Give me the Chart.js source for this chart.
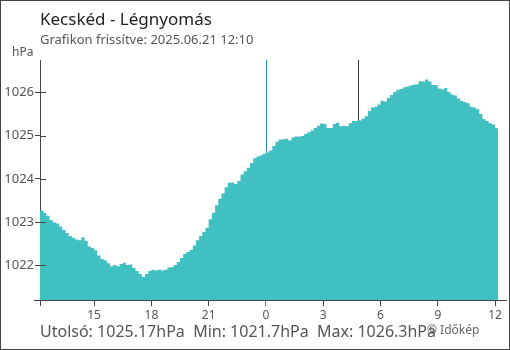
<!DOCTYPE html>
<html>
<head>
<meta charset="utf-8">
<script src="https://cdn.jsdelivr.net/npm/chart.js@4.4.1/dist/chart.umd.min.js"></script>
<style>
  body { margin: 0; background: #fff; font-family: "Noto Sans", sans-serif; }
  #wrap { position: relative; width: 510px; height: 350px; }
  #chart { position: absolute; left: 0; top: 0; }
  #frame { position: absolute; left: 0; top: 0; width: 510px; height: 350px; box-sizing: border-box;
           border: 1px solid #444; pointer-events: none; }
  .txt { position: absolute; white-space: pre; line-height: 1; }
</style>
</head>
<body>
<div id="wrap">
  <canvas id="chart" width="510" height="350"></canvas>
  <div class="txt" id="title" style="left:40px; top:10px; font-size:17px; color:#222;">Kecskéd - Légnyomás</div>
  <div class="txt" id="subtitle" style="left:40px; top:33px; font-size:13px; color:#555;">Grafikon frissítve: 2025.06.21 12:10</div>
  <div class="txt" id="unit" style="left:12px; top:46px; font-size:12px; color:#555;">hPa</div>
  <div class="txt" id="stats" style="left:40px; top:323px; font-size:16px; color:#555;"></div>
  <div class="txt" id="copy" style="left:427px; top:324px; font-size:12px; color:#666;">© Időkép</div>
  <div id="frame"></div>
</div>
<script>
// pressure readings, every 10 minutes from 12:10 yesterday to 12:10 today
const startHour = -11 - 50 / 60;   // hours relative to midnight
const stepMinutes = 10;
const pressure = [
  1023.32, 1023.27, 1023.21, 1023.15, 1023.05, 1022.99, 1022.97, 1022.90, 1022.82, 1022.75,
  1022.68, 1022.64, 1022.60, 1022.58, 1022.65, 1022.57, 1022.44, 1022.40, 1022.35, 1022.23,
  1022.15, 1022.12, 1022.05, 1021.98, 1022.01, 1021.98, 1022.03, 1022.06, 1022.01, 1022.02,
  1021.94, 1021.87, 1021.80, 1021.74, 1021.80, 1021.87, 1021.90, 1021.88, 1021.90, 1021.88,
  1021.90, 1021.95, 1021.96, 1022.01, 1022.08, 1022.17, 1022.27, 1022.31, 1022.36, 1022.46,
  1022.58, 1022.68, 1022.77, 1022.87, 1023.07, 1023.22, 1023.39, 1023.54, 1023.66, 1023.81,
  1023.91, 1023.92, 1023.88, 1023.95, 1024.10, 1024.18, 1024.26, 1024.37, 1024.48, 1024.52,
  1024.55, 1024.58, 1024.61, 1024.66, 1024.76, 1024.86, 1024.91, 1024.92, 1024.93, 1024.89,
  1024.96, 1024.98, 1024.98, 1024.99, 1025.04, 1025.08, 1025.12, 1025.18, 1025.23, 1025.28,
  1025.27, 1025.18, 1025.18, 1025.27, 1025.30, 1025.22, 1025.23, 1025.22, 1025.29, 1025.34,
  1025.34, 1025.35, 1025.39, 1025.45, 1025.57, 1025.65, 1025.67, 1025.72, 1025.81, 1025.79,
  1025.87, 1025.94, 1026.01, 1026.06, 1026.08, 1026.12, 1026.14, 1026.16, 1026.18, 1026.19,
  1026.26, 1026.25, 1026.30, 1026.25, 1026.17, 1026.17, 1026.09, 1026.07, 1026.10, 1026.01,
  1025.95, 1025.93, 1025.86, 1025.80, 1025.78, 1025.75, 1025.67, 1025.65, 1025.61, 1025.50,
  1025.38, 1025.34, 1025.29, 1025.26, 1025.17
];

const xTickHours = [-9, -6, -3, 0, 3, 6, 9, 12];
const xTickLabels = ["15", "18", "21", "0", "3", "6", "9", "12"];
const yTicks = [1022, 1023, 1024, 1025, 1026];
const midnightHour = 0;
const sunriseHour = 4.82;   // dark marker line
const lastValue = "1025.17", minValue = "1021.7", maxValue = "1026.3";

document.getElementById("stats").textContent =
  "Utolsó: " + lastValue + "hPa  Min: " + minValue + "hPa  Max: " + maxValue + "hPa";

const points = pressure.map((v, i) => ({ x: startHour + i * stepMinutes / 60, y: v }));

const axisColor = "#444";
const labelColor = "#555";
const fillColor = "#40c0c1";
const blue = "#2b8ed8";

// vertical marker lines behind the data, small inner tick stubs on top
const extras = {
  id: "extras",
  beforeDatasetsDraw(chart) {
    const { ctx, chartArea, scales } = chart;
    ctx.save();
    ctx.lineWidth = 1;
    const xm = Math.round(scales.x.getPixelForValue(midnightHour)) + 0.5;
    ctx.strokeStyle = blue;
    ctx.beginPath(); ctx.moveTo(xm, chartArea.top); ctx.lineTo(xm, chartArea.bottom); ctx.stroke();
    const xs = Math.round(scales.x.getPixelForValue(sunriseHour)) + 0.5;
    ctx.strokeStyle = "#333";
    ctx.beginPath(); ctx.moveTo(xs, chartArea.top); ctx.lineTo(xs, chartArea.bottom); ctx.stroke();
    ctx.restore();
  },
  afterDatasetsDraw(chart) {
    const { ctx, chartArea, scales } = chart;
    ctx.save();
    ctx.strokeStyle = axisColor;
    ctx.lineWidth = 1;
    yTicks.forEach(v => {
      const y = Math.round(scales.y.getPixelForValue(v)) + 0.5;
      ctx.beginPath(); ctx.moveTo(chartArea.left, y); ctx.lineTo(chartArea.left + 6, y); ctx.stroke();
    });
    const yb = Math.round(chartArea.bottom) + 0.5;
    ctx.beginPath(); ctx.moveTo(chartArea.left - 6, yb); ctx.lineTo(chartArea.left, yb); ctx.stroke();
    ctx.restore();
  }
};

new Chart(document.getElementById("chart"), {
  type: "line",
  data: {
    datasets: [{
      data: points,
      stepped: "after",
      fill: "start",
      backgroundColor: fillColor,
      borderWidth: 0,
      pointRadius: 0
    }]
  },
  options: {
    responsive: false,
    animation: false,
    events: [],
    layout: { padding: { top: 60, right: 4, left: 0, bottom: 0 } },
    plugins: { legend: { display: false }, tooltip: { enabled: false } },
    scales: {
      x: {
        type: "linear",
        min: startHour,
        max: 12.57,
        afterBuildTicks: s => { s.ticks = [startHour].concat(xTickHours).map(v => ({ value: v })); },
        afterFit: s => { s.height = 50; },
        ticks: {
          autoSkip: false,
          maxRotation: 0,
          padding: 2,
          color: labelColor,
          font: { family: "Noto Sans", size: 12 },
          callback: v => { const i = xTickHours.indexOf(v); return i >= 0 ? xTickLabels[i] : ""; }
        },
        grid: {
          drawOnChartArea: false,
          tickLength: 6,
          tickColor: c => (c.tick && c.tick.value === midnightHour ? blue : axisColor)
        },
        border: { color: axisColor }
      },
      y: {
        min: 1021.2,
        max: 1026.75,
        afterBuildTicks: s => { s.ticks = yTicks.map(v => ({ value: v })); },
        afterFit: s => { s.width = 40; },
        ticks: {
          padding: 1,
          color: labelColor,
          font: { family: "Noto Sans", size: 13 },
          callback: v => String(v)
        },
        grid: { drawOnChartArea: false, tickLength: 5, tickColor: axisColor },
        border: { color: axisColor }
      }
    }
  },
  plugins: [extras]
});
</script>
</body>
</html>
